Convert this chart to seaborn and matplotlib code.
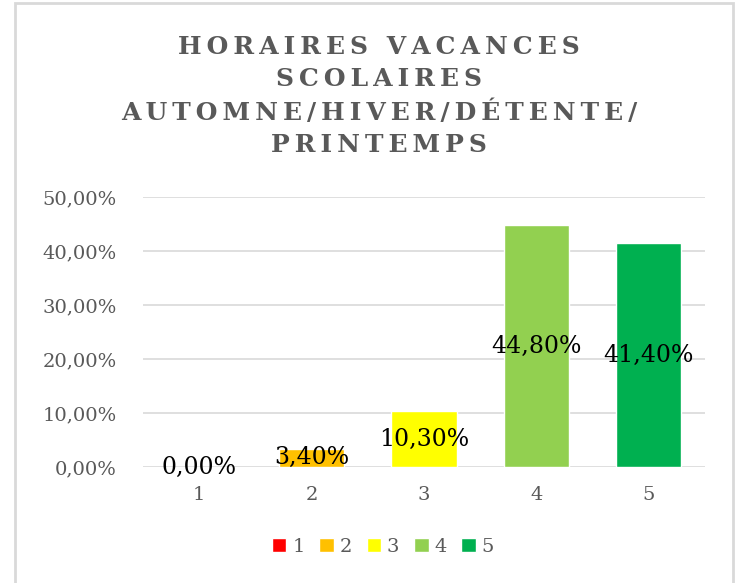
import matplotlib
matplotlib.use("Agg")
import matplotlib.pyplot as plt
import seaborn as sns
import pandas as pd
from matplotlib.patches import Rectangle

categories = ["1", "2", "3", "4", "5"]
values = [0.0, 3.4, 10.3, 44.8, 41.4]
labels = ["0,00%", "3,40%", "10,30%", "44,80%", "41,40%"]
colors = ["#FF0000", "#FFC000", "#FFFF00", "#92D050", "#00B050"]
yticks = [0, 10, 20, 30, 40, 50]
ytick_labels = ["0,00%", "10,00%", "20,00%", "30,00%", "40,00%", "50,00%"]
title_lines = ["HORAIRES VACANCES", "SCOLAIRES", "AUTOMNE/HIVER/DÉTENTE/", "PRINTEMPS"]

sns.set_theme(style="white")
plt.rcParams["font.family"] = ["DejaVu Serif"]

df = pd.DataFrame({"cat": categories, "val": values})

fig = plt.figure(figsize=(7.39, 5.83), dpi=100)
ax = fig.add_axes([143/739, 1-467/583, (705-143)/739, (467-197)/583])

sns.barplot(data=df, x="cat", y="val", hue="cat", palette=colors, width=0.58,
            dodge=False, ax=ax, legend=True, saturation=1)

ax.set_ylim(0, 50)
ax.set_yticks(yticks)
ax.set_yticklabels(ytick_labels)
ax.yaxis.grid(True, color="#D9D9D9", linewidth=1.2)
ax.set_axisbelow(True)
for s in ax.spines.values():
    s.set_visible(False)
ax.tick_params(axis="both", length=0, labelcolor="#595959", labelsize=14)
ax.tick_params(axis="y", pad=19)
ax.tick_params(axis="x", pad=14)
ax.set_xlabel("")
ax.set_ylabel("")

for i, (v, lab) in enumerate(zip(values, labels)):
    ax.text(i, v/2, lab, ha="center", va="center", fontsize=17, color="black")

def spaced(s):
    return "\u2009".join(list(s))

fig.text(379/739, 1-96/583, "\n".join(spaced(l) for l in title_lines), ha="center", va="center",
         fontsize=18, fontweight="bold", color="#595959", linespacing=1.45)

sns.move_legend(ax, "center", bbox_to_anchor=(383/739, 1-547/583), bbox_transform=fig.transFigure,
                ncol=5, frameon=False,
                title=None, fontsize=14, handlelength=0.75, handleheight=0.75, handletextpad=0.3,
                columnspacing=0.75, labelcolor="#595959")

fig.add_artist(Rectangle((15/739, -0.1), (733-15)/739, 1.1-3/583, transform=fig.transFigure,
                         fill=False, edgecolor="#D9D9D9", linewidth=2))

fig.savefig("out.png", dpi=100, facecolor="white")
